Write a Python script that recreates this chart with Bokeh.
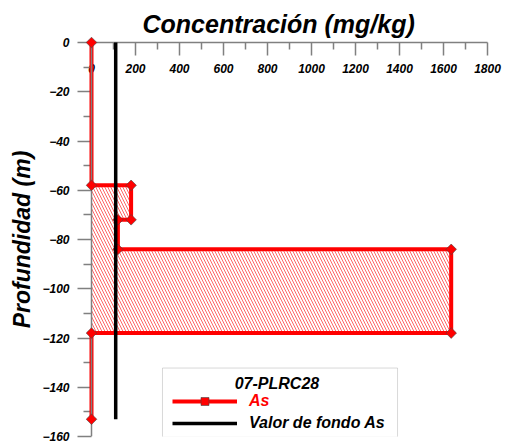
import math
from bokeh.plotting import figure
from bokeh.models import Range1d, FixedTicker, Legend, LegendItem, BoxAnnotation, Label, Span
from bokeh.embed import file_html
from bokeh.resources import INLINE

# ---- data ----
depth = [0, -58, -58, -72, -72, -84, -84, -118, -118, -153]
conc_as = [0, 0, 180, 180, 120, 120, 1635, 1635, 0, 0]
bg_value = 110
bg_depth = [0, -153]
x_ticks = [0, 200, 400, 600, 800, 1000, 1200, 1400, 1600, 1800]
y_ticks = [0, -20, -40, -60, -80, -100, -120, -140, -160]
title_text = "Concentración (mg/kg)"
y_label = "Profundidad (m)"
legend_title = "07-PLRC28"
series_name = "As"
bg_name = "Valor de fondo As"

FONT = "Liberation Sans"
GRAY = "#808080"

p = figure(width=505, height=445, x_range=Range1d(-22.73, 1800), y_range=Range1d(-160, 0),
           x_axis_location="above", output_backend="svg", toolbar_location=None,
           min_border_left=86, min_border_top=42, min_border_right=18, min_border_bottom=9)
p.outline_line_color = None
p.grid.visible = False
p.background_fill_color = "white"
p.border_fill_color = "white"

p.title.text = title_text
p.title.text_font = FONT
p.title.text_font_size = "25px"
p.title.text_font_style = "bold italic"
p.title.text_color = "black"
p.title.align = "left"
p.title.offset = 56

xa = p.xaxis[0]
xa.bounds = (x_ticks[0], x_ticks[-1])
xa.ticker = FixedTicker(ticks=x_ticks, minor_ticks=[(a + b) / 2 for a, b in zip(x_ticks[:-1], x_ticks[1:])])
xa.major_tick_in = 13
xa.major_tick_out = 0
xa.minor_tick_in = 7
xa.minor_tick_out = 0
xa.major_label_standoff = -30
xa.major_label_text_font = FONT
xa.major_label_text_font_size = "12px"
xa.major_label_text_font_style = "bold italic"
xa.major_label_text_color = "black"
xa.axis_line_color = GRAY
xa.axis_line_width = 1.5
xa.major_tick_line_color = GRAY
xa.major_tick_line_width = 1.5
xa.minor_tick_line_color = GRAY
xa.minor_tick_line_width = 1.5

ya = p.yaxis[0]
ya.ticker = FixedTicker(ticks=y_ticks, minor_ticks=[(a + b) / 2 for a, b in zip(y_ticks[:-1], y_ticks[1:])])
ya.major_tick_in = 5
ya.major_tick_out = 9
ya.minor_tick_in = 5
ya.minor_tick_out = 3
ya.major_label_standoff = 8
ya.major_label_text_font = FONT
ya.major_label_text_font_size = "12px"
ya.major_label_text_font_style = "bold italic"
ya.major_label_text_color = "black"
ya.axis_line_alpha = 0
ya.major_tick_line_color = GRAY
ya.major_tick_line_width = 1.5
ya.minor_tick_line_color = GRAY
ya.minor_tick_line_width = 1.5
ya.axis_label = y_label
ya.axis_label_text_font = FONT
ya.axis_label_text_font_size = "23px"
ya.axis_label_text_font_style = "bold italic"
ya.axis_label_text_color = "black"
ya.axis_label_standoff = 4

# vertical axis line at zero concentration
p.add_layout(Span(location=x_ticks[0], dimension="height", line_color=GRAY, line_width=1.5))

# hatched zone between axis and profile
p.patch(conc_as[1:9], depth[1:9], fill_alpha=0, line_alpha=0,
        hatch_pattern="\\", hatch_color="red", hatch_alpha=0.6,
        hatch_scale=6, hatch_weight=1)

r_line = p.line(conc_as, depth, line_color="red", line_width=4, level="annotation")
r_pts = p.scatter(conc_as, depth, marker="square", size=7.5, angle=math.pi / 4,
                  fill_color="red", line_color="#444444", line_width=0.6, level="overlay")
r_bg = p.line([bg_value, bg_value], bg_depth, line_color="black", line_width=3.5, level="overlay")

# legend frame + title
box = BoxAnnotation(left=322.7, right=1391, top=-132.2, bottom=-160.3,
                    fill_color="white", fill_alpha=1, line_color=GRAY, line_width=1)
p.add_layout(box)
p.add_layout(Label(x=843, y=-138.3, text=legend_title, text_align="center", text_baseline="middle",
                   text_font=FONT, text_font_size="16px", text_font_style="bold italic",
                   text_color="black"))

common = dict(margin=0, padding=10, background_fill_alpha=0, border_line_alpha=0,
              glyph_width=65, glyph_height=20, label_height=20, label_standoff=12,
              label_text_font=FONT, label_text_font_size="16px",
              label_text_font_style="bold italic", spacing=0)
leg1 = Legend(items=[LegendItem(label=series_name, renderers=[r_line, r_pts])],
              location=(76, 15), label_text_color="red", **common)
leg2 = Legend(items=[LegendItem(label=bg_name, renderers=[r_bg])],
              location=(76, -7), label_text_color="black", **common)
p.add_layout(leg1)
p.add_layout(leg2)

open("out.html", "w").write(file_html(p, INLINE))
